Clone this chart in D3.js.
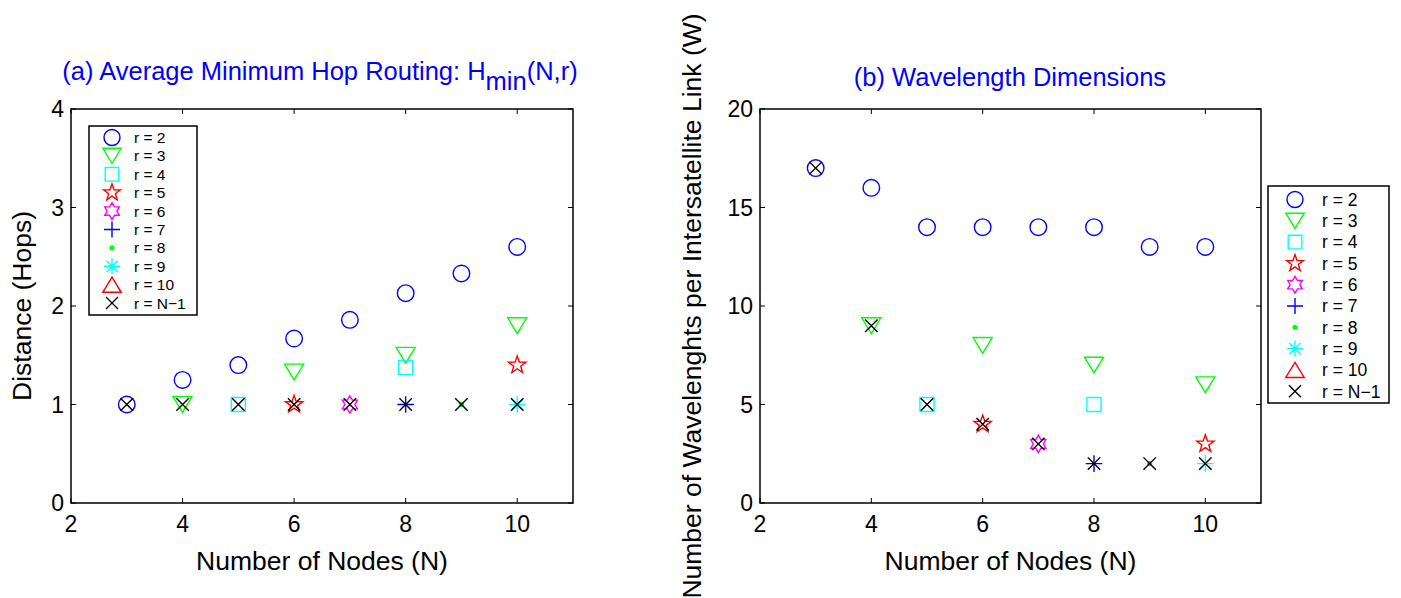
<!DOCTYPE html>
<html>
<head>
    <title>Hop routing and wavelength dimensions</title>
    <script src="https://d3js.org/d3.v7.min.js"></script>
    <style>
        body { margin: 0; background: #fff; }
        svg { font-family: "Liberation Sans", Arial, sans-serif; }
        .frame { fill: none; stroke: #000; stroke-width: 1.5px; }
        .tick-mark { stroke: #000; stroke-width: 1px; }
        .tick-label { font-size: 23px; fill: #000; }
        .axis-label { font-size: 26.5px; fill: #000; }
        .title { font-size: 25.5px; fill: #0000ff; }
        .legend-box { fill: #fff; stroke: #000; stroke-width: 1.5px; }
    </style>
</head>
<body>
    <svg width="1401" height="598"></svg>
    <script>
        // series labels, colours and marker kinds (same for both panels)
        const seriesNames = ["r = 2", "r = 3", "r = 4", "r = 5", "r = 6", "r = 7", "r = 8", "r = 9", "r = 10", "r = N\u22121"];
        const seriesColors = ["#0000ff", "#00ff00", "#00ffff", "#ff0000", "#ff00ff", "#0000ff", "#00ff00", "#00ffff", "#ff0000", "#000000"];
        const seriesMarkers = ["o", "v", "s", "p", "h", "+", ".", "*", "^", "x"];

        // number of nodes where each series has a value
        const seriesNodes = [
            [3, 4, 5, 6, 7, 8, 9, 10],
            [4, 6, 8, 10],
            [5, 8],
            [6, 10],
            [7],
            [8],
            [9],
            [10],
            [],
            [3, 4, 5, 6, 7, 8, 9, 10]
        ];

        // (a) average minimum hop distance
        const hopValues = [
            [1, 1.25, 1.4, 1.67, 1.86, 2.13, 2.33, 2.6],
            [1, 1.33, 1.5, 1.8],
            [1, 1.375],
            [1, 1.4],
            [1],
            [1],
            [1],
            [1],
            [],
            [1, 1, 1, 1, 1, 1, 1, 1]
        ];

        // (b) wavelengths per intersatellite link
        const wavelengthValues = [
            [17, 16, 14, 14, 14, 14, 13, 13],
            [9, 8, 7, 6],
            [5, 5],
            [4, 3],
            [3],
            [2],
            [2],
            [2],
            [],
            [17, 9, 5, 4, 3, 2, 2, 2]
        ];

        const xTicks = [2, 4, 6, 8, 10];
        const hopTicks = [0, 1, 2, 3, 4];
        const wavelengthTicks = [0, 5, 10, 15, 20];

        const svg = d3.select("svg");

        function markerPath(kind, s) {
            // s = half size
            const p = d3.path();
            if (kind === "o") {
                p.arc(0, 0, s, 0, 2 * Math.PI);
            } else if (kind === "v" || kind === "^") {
                const k = kind === "v" ? 1 : -1;
                p.moveTo(-s * 1.15, -k * s * 0.95);
                p.lineTo(s * 1.15, -k * s * 0.95);
                p.lineTo(0, k * s * 0.95);
                p.closePath();
            } else if (kind === "s") {
                const h = s * 0.85;
                p.rect(-h, -h, 2 * h, 2 * h);
            } else if (kind === "p") {
                const R = s * 1.1, r = R * 0.4;
                for (let i = 0; i < 10; i++) {
                    const a = -Math.PI / 2 + i * Math.PI / 5;
                    const rr = i % 2 ? r : R;
                    if (i === 0) p.moveTo(rr * Math.cos(a), rr * Math.sin(a));
                    else p.lineTo(rr * Math.cos(a), rr * Math.sin(a));
                }
                p.closePath();
            } else if (kind === "h") {
                const R = s * 1.05, r = R * 0.58;
                for (let i = 0; i < 12; i++) {
                    const a = -Math.PI / 2 + i * Math.PI / 6;
                    const rr = i % 2 ? r : R;
                    if (i === 0) p.moveTo(rr * Math.cos(a), rr * Math.sin(a));
                    else p.lineTo(rr * Math.cos(a), rr * Math.sin(a));
                }
                p.closePath();
            } else if (kind === "+") {
                p.moveTo(-s, 0); p.lineTo(s, 0);
                p.moveTo(0, -s); p.lineTo(0, s);
            } else if (kind === "*") {
                p.moveTo(-s, 0); p.lineTo(s, 0);
                p.moveTo(0, -s); p.lineTo(0, s);
                const d = s * 0.7;
                p.moveTo(-d, -d); p.lineTo(d, d);
                p.moveTo(-d, d); p.lineTo(d, -d);
            } else if (kind === "x") {
                const d = s * 0.75;
                p.moveTo(-d, -d); p.lineTo(d, d);
                p.moveTo(-d, d); p.lineTo(d, -d);
            }
            return p.toString();
        }

        function drawMarker(g, kind, color, x, y, s) {
            if (kind === ".") {
                g.append("circle").attr("cx", x).attr("cy", y).attr("r", s * 0.32)
                    .attr("fill", color);
                return;
            }
            g.append("path")
                .attr("d", markerPath(kind, s))
                .attr("transform", `translate(${x},${y})`)
                .attr("fill", "none")
                .attr("stroke", color)
                .attr("stroke-width", 1.4);
        }

        function panel(opt) {
            const x = d3.scaleLinear().domain([2, 11]).range([opt.left, opt.right]);
            const y = d3.scaleLinear().domain([0, opt.yMax]).range([opt.bottom, opt.top]);
            const g = svg.append("g");

            g.append("rect").attr("class", "frame")
                .attr("x", opt.left).attr("y", opt.top)
                .attr("width", opt.right - opt.left).attr("height", opt.bottom - opt.top);

            // x ticks, inward on bottom and top
            xTicks.forEach(t => {
                const px = x(t);
                g.append("line").attr("class", "tick-mark")
                    .attr("x1", px).attr("x2", px).attr("y1", opt.bottom).attr("y2", opt.bottom - 5);
                g.append("line").attr("class", "tick-mark")
                    .attr("x1", px).attr("x2", px).attr("y1", opt.top).attr("y2", opt.top + 5);
                g.append("text").attr("class", "tick-label")
                    .attr("x", px).attr("y", opt.bottom + 29)
                    .attr("text-anchor", "middle").text(t);
            });

            // y ticks, inward on left and right
            opt.yTicks.forEach(t => {
                const py = y(t);
                g.append("line").attr("class", "tick-mark")
                    .attr("x1", opt.left).attr("x2", opt.left + 5).attr("y1", py).attr("y2", py);
                g.append("line").attr("class", "tick-mark")
                    .attr("x1", opt.right).attr("x2", opt.right - 5).attr("y1", py).attr("y2", py);
                g.append("text").attr("class", "tick-label")
                    .attr("x", opt.left - 7).attr("y", py + 8)
                    .attr("text-anchor", "end").text(t);
            });

            // data markers
            const marks = g.append("g");
            seriesNodes.forEach((nodes, i) => {
                nodes.forEach((n, j) => {
                    drawMarker(marks, seriesMarkers[i], seriesColors[i], x(n), y(opt.values[i][j]), 8.3);
                });
            });

            // axis labels
            g.append("text").attr("class", "axis-label")
                .attr("x", (opt.left + opt.right) / 2).attr("y", 570)
                .attr("text-anchor", "middle").text("Number of Nodes (N)");
            g.append("text").attr("class", "axis-label")
                .attr("transform", `translate(${opt.yLabelX},${(opt.top + opt.bottom) / 2}) rotate(-90)`)
                .attr("text-anchor", "middle").text(opt.yLabel);

            // legend
            const L = opt.legend;
            const lg = g.append("g");
            lg.append("rect").attr("class", "legend-box")
                .attr("x", L.x).attr("y", L.y).attr("width", L.w).attr("height", L.h);
            seriesNames.forEach((name, i) => {
                const ry = L.y + L.first + i * L.step;
                drawMarker(lg, seriesMarkers[i], seriesColors[i], L.x + L.markerDx, ry, L.markerSize);
                lg.append("text")
                    .attr("x", L.x + L.textDx).attr("y", ry + L.fontSize * 0.36)
                    .attr("font-size", L.fontSize)
                    .text(name);
            });
            return g;
        }

        panel({
            left: 71, right: 573, top: 109, bottom: 503,
            yMax: 4, yTicks: hopTicks, values: hopValues,
            yLabel: "Distance (Hops)", yLabelX: 31,
            legend: { x: 89, y: 126, w: 108, h: 189, first: 11.5, step: 18.4,
                      markerDx: 23, markerSize: 8, textDx: 45, fontSize: 15.5 }
        });

        panel({
            left: 760, right: 1261, top: 109, bottom: 503,
            yMax: 20, yTicks: wavelengthTicks, values: wavelengthValues,
            yLabel: "Number of Wavelenghts per Intersatellite Link (W)", yLabelX: 701,
            legend: { x: 1268, y: 186, w: 121, h: 217, first: 13.5, step: 21.3,
                      markerDx: 27, markerSize: 8, textDx: 54, fontSize: 17.5 }
        });

        // titles
        const ta = svg.append("text").attr("class", "title")
            .attr("x", 320).attr("y", 80).attr("text-anchor", "middle");
        ta.append("tspan").text("(a) Average Minimum Hop Routing: H");
        ta.append("tspan").attr("dy", 10).text("min");
        ta.append("tspan").attr("dy", -10).text("(N,r)");

        svg.append("text").attr("class", "title")
            .attr("x", 1010).attr("y", 86).attr("text-anchor", "middle")
            .text("(b) Wavelength Dimensions");
    </script>
</body>
</html>
